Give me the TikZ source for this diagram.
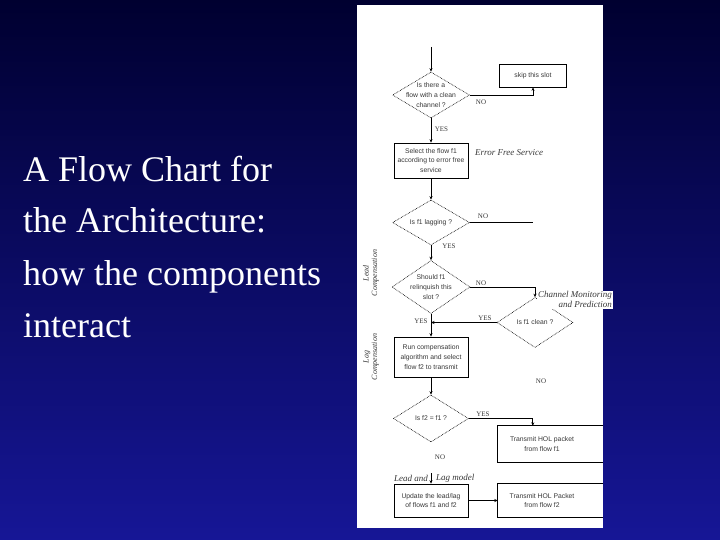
\documentclass[tikz,border=0pt]{standalone}
\usepackage{fontspec}
\setmainfont{Liberation Serif}
\newfontfamily\sansf{Liberation Sans}
\usetikzlibrary{shapes.geometric,arrows.meta,calc}
\definecolor{bgtop}{RGB}{0,0,48}
\definecolor{bgbot}{RGB}{22,22,150}
\definecolor{ink}{gray}{0.22}
\tikzset{
  title/.style={anchor=base west,text=white,font=\fontsize{36}{36}\selectfont,inner sep=0pt},
  dia/.style={diamond,draw=black,dash pattern=on 0.7pt off 0.9pt,line width=0.6pt,inner sep=0pt},
  boxn/.style={rectangle,draw=black,line width=0.7pt,inner sep=0pt},
  openbox/.style={rectangle,inner sep=0pt},
  txt/.style={text=ink,font=\sansf\fontsize{6.8}{9.8}\selectfont,align=center,inner sep=0pt},
  yn/.style={text=ink,font=\fontsize{7}{8}\selectfont,inner sep=0pt},
  lab/.style={text=ink,font=\itshape\fontsize{9}{9.5}\selectfont,inner sep=0pt},
  arr/.style={draw=black,line width=0.7pt,-{Stealth[length=3.5pt,width=3pt]}},
  ln/.style={draw=black,line width=0.7pt},
}
\begin{document}
\begin{tikzpicture}[x=1pt,y=-1pt]
\useasboundingbox (0,0) rectangle (720,540);
\shade[top color=bgtop,bottom color=bgbot] (0,0) rectangle (720,540);
\fill[white] (357,5) rectangle (603,528);

% title
\node[title] (t1) at (23,182) {A Flow Chart for};
\node[title] (t2) at (23,233) {the Architecture:};
\node[title] (t3) at (23,285) {how the components};
\node[title] (t4) at (23,337) {interact};

% flowchart nodes
\coordinate (start) at (431,47);
\node[dia,minimum width=77pt,minimum height=46pt] (d1) at (431,95) {};
\node[txt] (d1t) at (d1) {Is there a\\flow with a clean\\channel ?};
\node[boxn,minimum width=67pt,minimum height=23pt] (skip) at (533,75.5) {};
\node[txt] (skipt) at (skip) {skip this slot};
\node[boxn,minimum width=74pt,minimum height=35pt] (b2) at (431,160.5) {};
\node[txt] (b2t) at (b2) {Select the flow f1\\according to error free\\service};
\node[lab,anchor=west] (efs) at (475,153) {Error Free Service};
\node[dia,minimum width=77pt,minimum height=45pt] (d2) at (431,222.5) {};
\node[txt] (d2t) at (d2) {Is f1 lagging ?};
\coordinate (d2end) at (533,222.5);
\node[dia,minimum width=78pt,minimum height=53pt] (d3) at (431,287) {};
\node[txt] (d3t) at (d3) {Should f1\\relinquish this\\slot ?};
\node[dia,minimum width=76pt,minimum height=50pt] (d4) at (535,322.5) {};
\node[txt] (d4t) at (d4) {Is f1 clean ?};
\node[lab,anchor=north west,align=right,fill=white,inner sep=1pt] (cmp) at (537,290.5) {Channel Monitoring\\and Prediction};
\node[boxn,minimum width=74pt,minimum height=40pt] (b3) at (431,357) {};
\node[txt] (b3t) at (b3) {Run compensation\\algorithm and select\\flow f2 to transmit};
\coordinate (join) at (431,322.5);
\node[dia,minimum width=75pt,minimum height=47pt] (d5) at (431,418.5) {};
\node[txt] (d5t) at (d5) {Is f2 = f1 ?};
\node[openbox,minimum width=105pt,minimum height=36pt] (b4) at (550.5,444) {};
\node[txt] (b4t) at (542,444) {Transmit HOL packet\\from flow f1};
\node[boxn,minimum width=74pt,minimum height=33pt] (b5) at (431,500.5) {};
\node[txt] (b5t) at (b5) {Update the lead/lag\\of flows f1 and f2};
\node[openbox,minimum width=105pt,minimum height=34pt] (b6) at (550.5,500.5) {};
\node[txt] (b6t) at (542,500.5) {Transmit HOL Packet\\from flow f2};
\node[lab,anchor=east] (lla) at (428,478) {Lead and};
\node[lab,anchor=west] (llb) at (436,478) {Lag model};
\coordinate (llc) at (431,473);

% side labels
\node[lab,rotate=90,align=center,font=\itshape\fontsize{8}{8.5}\selectfont] (leadc) at (371,273) {Lead\\Compensation};
\node[lab,rotate=90,align=center,font=\itshape\fontsize{8}{8.5}\selectfont] (lagc) at (371,357) {Lag\\Compensation};

% open box sides
\draw[ln] (b4.north east) -- (b4.north west) -- (b4.south west) -- (b4.south east);
\draw[ln] (b6.north east) -- (b6.north west) -- (b6.south west) -- (b6.south east);

% connectors
\draw[arr] (start) -- (d1.north);
\draw[arr] (d1.east) -| (skip.south);
\node[yn] (no1) at (481,102.5) {NO};
\draw[arr] (d1.south) -- (b2.north);
\node[yn] (yes1) at (441.5,129) {YES};
\draw[arr] (b2.south) -- (d2.north);
\draw[ln] (d2.east) -- (d2end);
\node[yn] (no2) at (483,216) {NO};
\draw[arr] (d2.south) -- (d3.north);
\node[yn] (yes2) at (449,246.5) {YES};
\draw[arr] (d3.east) -| (d4.north);
\node[yn] (no3) at (481,283.5) {NO};
\draw[arr] (d3.south) -- (b3.north);
\node[yn] (yes3) at (421,321) {YES};
\draw[arr] (d4.west) -- (join);
\node[yn] (yes4) at (485,318.5) {YES};
\node[yn] (no4) at (541,381.5) {NO};
\draw[arr] (b3.south) -- (d5.north);
\draw[arr] (d5.east) -| ([xshift=35pt]b4.north west);
\node[yn] (yes5) at (483,414) {YES};
\node[yn] (no5) at (440,457) {NO};
\draw[arr] (llc) -- (b5.north);
\draw[arr] (b5.east) -- (b6.west);
\end{tikzpicture}
\end{document}
